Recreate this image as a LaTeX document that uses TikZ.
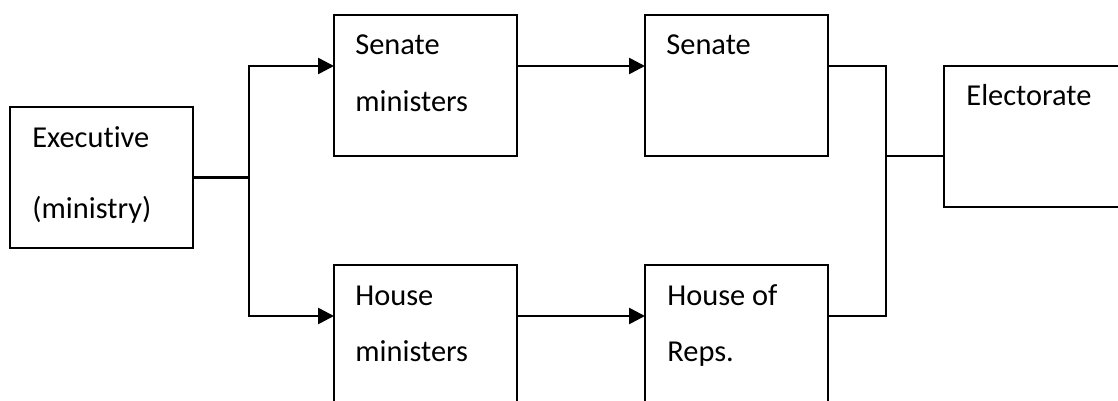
\documentclass[tikz,border=0pt]{standalone}
\usepackage{fontspec}
\setmainfont[Ligatures={NoCommon}]{Carlito}
\usetikzlibrary{arrows.meta}
\tikzset{
  box/.style={draw=black, line width=1.1pt, rectangle, minimum width=91.5pt, minimum height=70.5pt, inner sep=0pt, outer sep=0pt, anchor=north west},
  tallbox/.style={box, minimum height=80pt},
  txt/.style={anchor=base west, inner sep=0pt, font=\fontsize{15.2pt}{18pt}\selectfont},
  conn/.style={draw=black, line width=1.1pt},
  arr/.style={draw=black, line width=1.3pt, -{Triangle[length=8pt,width=8pt]}}
}
\begin{document}
\begin{tikzpicture}[x=0.5pt,y=-0.5pt]
\clip (0,0) rectangle (1118,401);
\fill[white] (0,0) rectangle (1118,401);
% rows and branch columns
\coordinate (rowA) at (0,66);
\coordinate (rowB) at (0,316);
\coordinate (rowM) at (0,156);
\coordinate (b1) at (249,0);
\coordinate (b2) at (886,0);
% boxes
\node[box] (exec) at (10,107) {};
\node[box] (sm) at (334,15) {};
\node[box] (sen) at (645,15) {};
\node[tallbox] (hm) at (334,265) {};
\node[tallbox] (hr) at (645,265) {};
\node[box] (el) at (944,66) {};
% texts
\node[txt] (t1) at (32,148) {Executive};
\node[txt] (t2) at (32,218) {(ministry)};
\node[txt] (t3) at (355,55) {Senate};
\node[txt] (t4) at (355,112) {ministers};
\node[txt] (t5) at (666,55) {Senate};
\node[txt] (t6) at (355,305) {House};
\node[txt] (t7) at (355,361) {ministers};
\node[txt] (t8) at (667,305) {House of};
\node[txt] (t9) at (667,361) {Reps.};
\node[txt] (t10) at (966,105) {Electorate};
% connectors
\draw[conn] (exec.east) -- (exec.east -| b1);
\draw[arr] (exec.east -| b1) |- (sm.west |- rowA);
\draw[arr] (exec.east -| b1) |- (hm.west |- rowB);
\draw[arr] (sm.east |- rowA) -- (sen.west |- rowA);
\draw[arr] (hm.east |- rowB) -- (hr.west |- rowB);
\draw[conn] (sen.east |- rowA) -| (b2 |- rowB) -- (hr.east |- rowB);
\draw[conn] (b2 |- rowM) -- (el.west |- rowM);
\end{tikzpicture}
\end{document}
